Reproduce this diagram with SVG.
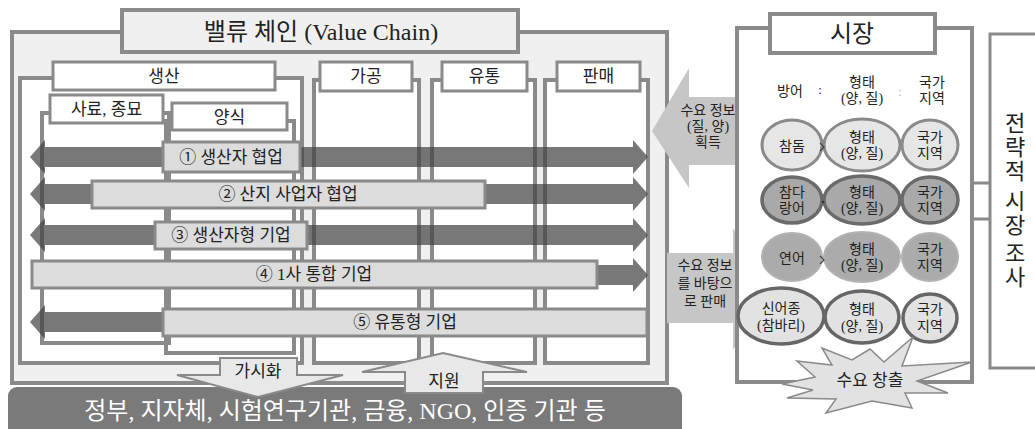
<svg xmlns="http://www.w3.org/2000/svg" width="1035" height="429" viewBox="0 0 1035 429">
<defs>
<style>
text{font-family:"Liberation Serif","Noto Sans CJK KR",serif;fill:#222;text-anchor:middle;dominant-baseline:central}
.frame{fill:#fff;stroke:#8a8a8a;stroke-width:4}
.sub{fill:none;stroke:#8a8a8a;stroke-width:4}
.lab{fill:#fff;stroke:#8a8a8a;stroke-width:3}
.bar{fill:#444;opacity:.72}
.blab{fill:#dcdcdc;stroke:#8a8a8a;stroke-width:3}
.big{fill:#c6c6c6}
.e1{fill:#e6e6e6;stroke:#8a8a8a;stroke-width:3}
.e2{fill:#a9a9a9;stroke:#6a6a6a;stroke-width:3.5}
.e3{fill:#ababab;stroke:#b2b2b2;stroke-width:2}
.e4{fill:#e2e2e2;stroke:#666;stroke-width:3.5}
.s13{font-size:13px}
.s14{font-size:14px}
.s17{font-size:17px}
.s22{font-size:22px}
.s24{font-size:24px}
.lt{fill:#e8e8e8;stroke:#8a8a8a;stroke-width:2}
</style>
</defs>

<g id="value-chain">
<rect x="12" y="32" width="655" height="351" fill="#f0f0f0" stroke="#8a8a8a" stroke-width="4"/>
<rect x="122" y="10" width="396" height="42" fill="#f0f0f0" stroke="#8a8a8a" stroke-width="4"/>
<text x="321" y="32" class="s24">밸류 체인 (Value Chain)</text>
</g>

<g id="frame-production">
<rect class="frame" x="20" y="78" width="282" height="285"/>
<rect class="lab" x="53" y="62" width="222" height="28"/>
<text x="164" y="76" class="s17">생산</text>
</g>
<g id="frame-feed">
<rect class="sub" x="42" y="113" width="127" height="230"/>
</g>
<g id="frame-farming">
<rect class="sub" x="166" y="121" width="128" height="232"/>
</g>
<g id="label-feed">
<rect class="lab" x="50" y="95" width="113" height="28"/>
<text x="106.5" y="109" class="s17">사료, 종묘</text>
</g>
<g id="label-farming">
<rect class="lab" x="172" y="103" width="115" height="27"/>
<text x="229.5" y="117" class="s17">양식</text>
</g>
<g id="frame-processing">
<rect class="frame" x="314" y="80" width="105" height="283"/>
<rect class="lab" x="320" y="62" width="92" height="29"/>
<text x="366" y="76.5" class="s17">가공</text>
</g>
<g id="frame-distribution">
<rect class="frame" x="432" y="80" width="103" height="283"/>
<rect class="lab" x="442" y="62" width="85" height="29"/>
<text x="484.5" y="76.5" class="s17">유통</text>
</g>
<g id="frame-sales">
<rect class="frame" x="545" y="80" width="103" height="283"/>
<rect class="lab" x="557" y="62" width="83" height="29"/>
<text x="598.5" y="76.5" class="s17">판매</text>
</g>

<g id="connectors">
<path class="bar" d="M30,157 L45,140 L45,147 L633,147 L633,140 L648,157 L633,174 L633,167 L45,167 L45,174 Z"/>
<path class="bar" d="M30,194 L45,177 L45,184 L633,184 L633,177 L648,194 L633,211 L633,204 L45,204 L45,211 Z"/>
<path class="bar" d="M30,235 L45,218 L45,225 L633,225 L633,218 L648,235 L633,252 L633,245 L45,245 L45,252 Z"/>
<path class="bar" d="M580,265 L633,265 L633,258 L648,275 L633,292 L633,285 L580,285 Z"/>
<path class="bar" d="M30,322 L45,305 L45,312 L180,312 L180,332 L45,332 L45,339 Z"/>
<path class="big" d="M652,131 L689,68 L689,97 L752,97 L752,165 L689,165 L689,188 Z"/>
<path class="big" d="M667,253 L733,253 L733,228 L770,289 L733,350 L733,323 L667,323 Z"/>
<polyline points="990,183 972,183 964,201 972,219 990,219" fill="none" stroke="#8a8a8a" stroke-width="3"/>
</g>

<g id="type1">
<rect class="blab" x="163" y="142" width="137" height="30"/>
<text x="231" y="157" class="s17">① 생산자 협업</text>
</g>
<g id="type2">
<rect class="blab" x="92" y="181" width="393" height="27"/>
<text x="288" y="194.5" class="s17">② 산지 사업자 협업</text>
</g>
<g id="type3">
<rect class="blab" x="155" y="222" width="152" height="27"/>
<text x="231" y="235.5" class="s17">③ 생산자형 기업</text>
</g>
<g id="type4">
<rect class="blab" x="32" y="261" width="565" height="27"/>
<text x="314" y="274.5" class="s17">④ 1사 통합 기업</text>
</g>
<g id="type5">
<rect class="blab" x="163" y="309" width="484" height="27"/>
<text x="405" y="322.5" class="s17">⑤ 유통형 기업</text>
</g>

<g id="demand-info-arrows">
<text x="708" y="110" class="s14">수요 정보</text>
<text x="708" y="126" class="s14">(질, 양)</text>
<text x="708" y="142" class="s14">획득</text>
</g>

<g id="market">
<rect x="737" y="28" width="235" height="354" fill="#fff" stroke="#8a8a8a" stroke-width="4"/>
<rect x="770" y="14" width="165" height="39" fill="#fff" stroke="#8a8a8a" stroke-width="4"/>
<text x="852" y="34" class="s24">시장</text>
<text x="790" y="91" class="s14">방어</text>
<text x="820" y="89" class="s13">:</text>
<text x="862" y="82" class="s14">형태</text>
<text x="862" y="98" class="s14">(양, 질)</text>
<text x="900" y="91" class="s13" style="fill:#bbb">:</text>
<text x="932" y="82" class="s14">국가</text>
<text x="932" y="98" class="s14">지역</text>
</g>

<g id="sell-arrow">
<text x="705" y="265" class="s14">수요 정보</text>
<text x="705" y="283" class="s14">를 바탕으</text>
<text x="705" y="301" class="s14">로 판매</text>
</g>

<g id="row1">
<ellipse class="e1" cx="792" cy="145" rx="30" ry="25"/>
<ellipse class="e1" cx="862" cy="145" rx="38" ry="26"/>
<ellipse class="e1" cx="930" cy="145" rx="28" ry="25"/>
<text x="792" y="146" class="s14">참돔</text>
<text x="862" y="137" class="s14">형태</text>
<text x="862" y="153" class="s14">(양, 질)</text>
<text x="930" y="137" class="s14">국가</text>
<text x="930" y="153" class="s14">지역</text>
<polyline points="820,143 824,147 820,151" fill="none" stroke="#444" stroke-width="1.2"/>
</g>
<g id="row2">
<ellipse class="e2" cx="792" cy="200" rx="30" ry="23"/>
<ellipse class="e2" cx="862" cy="200" rx="38" ry="24"/>
<ellipse class="e2" cx="930" cy="200" rx="28" ry="23"/>
<text x="792" y="192" class="s14">참다</text>
<text x="792" y="208" class="s14">랑어</text>
<text x="862" y="192" class="s14">형태</text>
<text x="862" y="208" class="s14">(양, 질)</text>
<text x="930" y="192" class="s14">국가</text>
<text x="930" y="208" class="s14">지역</text>
<circle cx="823" cy="202" r="1.3" fill="#333"/>
</g>
<g id="row3">
<ellipse class="e3" cx="792" cy="257" rx="30" ry="24"/>
<ellipse class="e3" cx="862" cy="257" rx="38" ry="25"/>
<ellipse class="e3" cx="930" cy="257" rx="28" ry="24"/>
<text x="792" y="258" class="s14">연어</text>
<text x="862" y="249" class="s14">형태</text>
<text x="862" y="265" class="s14">(양, 질)</text>
<text x="930" y="249" class="s14">국가</text>
<text x="930" y="265" class="s14">지역</text>
<polyline points="820,256 824,260 820,264" fill="none" stroke="#444" stroke-width="1.2"/>
</g>
<g id="row4">
<ellipse class="e4" cx="781" cy="316" rx="43" ry="28"/>
<ellipse class="e4" cx="862" cy="317" rx="37" ry="26"/>
<ellipse class="e4" cx="930" cy="318" rx="27" ry="24"/>
<text x="781" y="308" class="s14">신어종</text>
<text x="781" y="325" class="s14">(참바리)</text>
<text x="862" y="309" class="s14">형태</text>
<text x="862" y="326" class="s14">(양, 질)</text>
<text x="930" y="309" class="s14">국가</text>
<text x="930" y="326" class="s14">지역</text>
</g>

<g id="demand-creation">
<polygon points="782,384 815,377 797,361 832,365 822,348 852,360 870,349 884,362 913,337 902,366 972,362 917,381 948,393 905,393 912,408 872,401 826,413 836,399 787,398 813,390" fill="#e2e2e2" stroke="#8a8a8a" stroke-width="1.5"/>
<text x="870" y="380" class="s17">수요 창출</text>
</g>

<g id="strategic-research">
<rect x="990" y="34" width="60" height="334" fill="#fff" stroke="#8a8a8a" stroke-width="3"/>
<text x="1015" y="123" class="s22">전</text>
<text x="1015" y="147" class="s22">략</text>
<text x="1015" y="171" class="s22">적</text>
<text x="1015" y="201" class="s22">시</text>
<text x="1015" y="225" class="s22">장</text>
<text x="1015" y="253" class="s22">조</text>
<text x="1015" y="277" class="s22">사</text>
</g>

<g id="support-bodies">
<rect x="8" y="387" width="674" height="60" rx="9" fill="#7a7a7a"/>
<text x="345" y="411" style="font-size:24px;fill:#fff">정부, 지자체, 시험연구기관, 금융, NGO, 인증 기관 등</text>
</g>

<g id="visualize">
<polygon class="lt" points="220,358 297,358 297,375 343,375 258,397 177,375 220,375"/>
<text x="258" y="371" class="s17">가시화</text>
</g>
<g id="support">
<polygon class="lt" points="443,353 527,372 483,372 483,393 405,393 405,372 362,372"/>
<text x="444" y="381" class="s17">지원</text>
</g>
</svg>
